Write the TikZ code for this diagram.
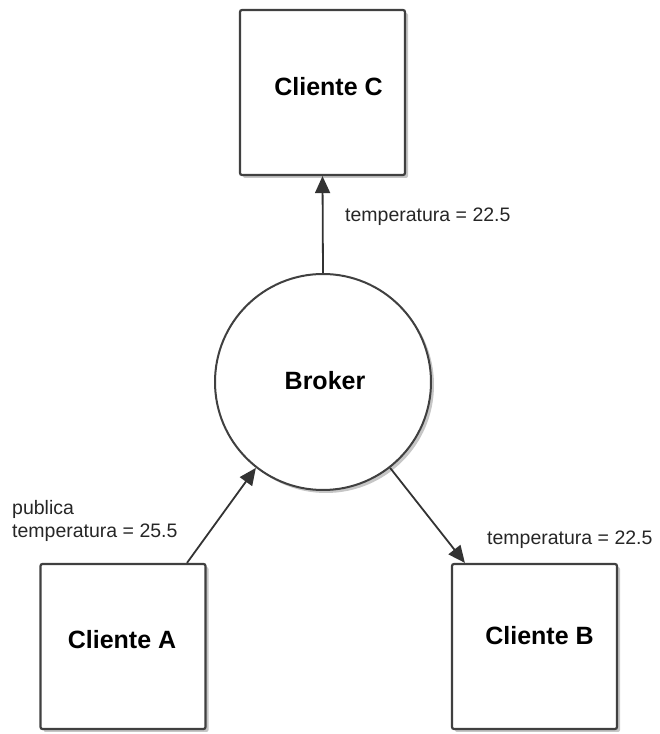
\documentclass[tikz,border=0pt]{standalone}
\usepackage{fontspec}
\setmainfont{Liberation Sans}
\usetikzlibrary{shadows,arrows.meta,calc}
\begin{document}
\begin{tikzpicture}[x=1pt,y=1pt,
  client/.style={draw=black!75,line width=2.2pt,fill=white,rounded corners=2pt,
    minimum width=165pt,minimum height=165pt,inner sep=0pt,
    drop shadow={shadow xshift=3pt,shadow yshift=-3pt,opacity=0.45}},
  brokerbox/.style={circle,draw=black!75,line width=2pt,fill=white,
    minimum size=216pt,inner sep=0pt,
    drop shadow={shadow xshift=3pt,shadow yshift=-3pt,opacity=0.45}},
  title/.style={font=\fontsize{25}{30}\selectfont\bfseries,inner sep=0pt},
  conn/.style={draw=black!80,line width=1.8pt,-{Triangle[length=17pt,width=15pt]}},
  lbl/.style={font=\fontsize{19.5}{23}\selectfont,text=black!85,inner sep=0pt,anchor=west,align=left}
]
\useasboundingbox (0,0) rectangle (659,734);
\node[client] (C) at (322.5,641.5) {};
\node[brokerbox] (Br) at (323,352) {};
\node[client] (A) at (123,87.5) {};
\node[client] (B) at (534.5,87.5) {};
\node[title] (Ct) at ($(C)+(6,6)$) {Cliente C};
\node[title] (Brt) at ($(Br)+(2,1)$) {Broker};
\node[title] (At) at ($(A)+(-1,7)$) {Cliente A};
\node[title] (Bt) at ($(B)+(5,11)$) {Cliente B};
\draw[conn] (Br.north) -- (C.south);
\draw[conn] ([xshift=64pt]A.north) -- (Br.232);
\draw[conn] (Br.308) -- ([xshift=14pt]B.north west);
\node[lbl] (lc) at (345,517) {temperatura = 22.5};
\node[lbl] (la) at (12,213) {publica\\temperatura = 25.5};
\node[lbl] (lb) at (487,194) {temperatura = 22.5};
\end{tikzpicture}
\end{document}
